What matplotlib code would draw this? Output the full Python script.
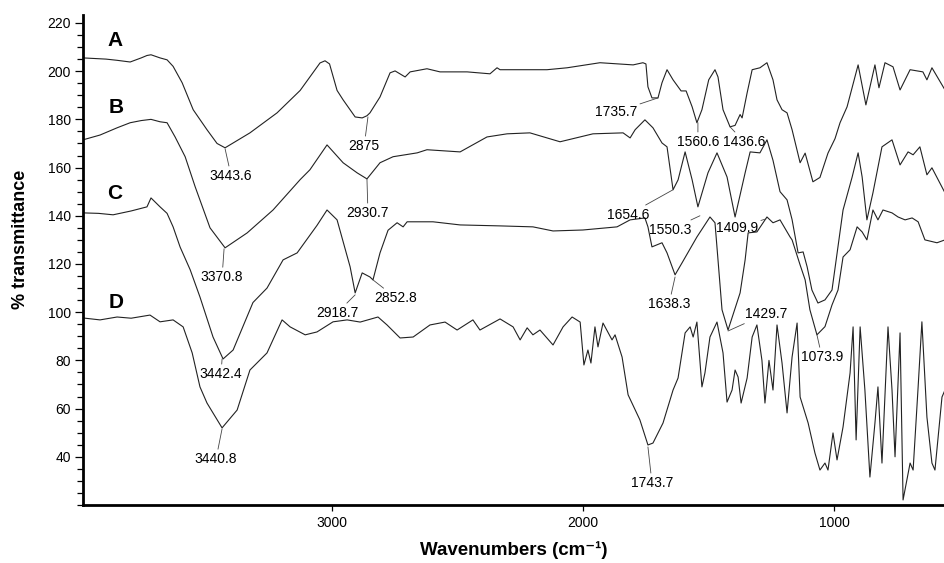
import numpy as np
import matplotlib
matplotlib.use('Agg')
import matplotlib.pyplot as plt
from matplotlib.ticker import MultipleLocator, FixedLocator

plt.rcParams['font.family'] = ['Liberation Sans', 'DejaVu Sans']

# spectrum A (wavenumber, % transmittance, offset as in the figure)
wn_a = [3992, 3900, 3856, 3804, 3760, 3737, 3721, 3685, 3657, 3633, 3597, 3553, 3498, 3458, 3426,
        3327, 3219, 3127, 3048, 3028, 3010, 2980, 2956, 2908, 2880, 2861, 2849, 2809, 2769, 2749,
        2709, 2689, 2622, 2570, 2462, 2371, 2343, 2331, 2144, 2064, 1933, 1801, 1762, 1750, 1742,
        1726, 1702, 1686, 1666, 1642, 1610, 1590, 1566, 1547, 1527, 1500, 1475, 1463, 1443, 1415,
        1395, 1375, 1367, 1347, 1327, 1296, 1268, 1244, 1228, 1208, 1188, 1168, 1136, 1116, 1085,
        1057, 1025, 997, 977, 949, 905, 874, 838, 822, 798, 766, 738, 698, 647, 631, 611, 559]
t_a = [205.5, 205.0, 204.5, 203.8, 205.5, 206.5, 206.8, 205.5, 204.7, 202.0, 195.2, 184.0, 175.7, 170.0, 168.2,
       174.4, 182.7, 192.0, 203.4, 204.3, 203.0, 192.0, 188.1, 181.0, 180.6, 181.5, 182.7, 189.3, 199.3, 200.1,
       197.6, 199.7, 201.0, 199.7, 199.7, 198.9, 201.4, 200.6, 200.6, 201.4, 203.5, 202.6, 203.5, 203.0, 193.5,
       188.9, 188.9, 195.2, 200.6, 196.4, 191.8, 191.8, 185.2, 178.6, 184.0, 196.4, 200.6, 197.6, 184.0, 176.9,
       177.5, 182.0, 180.6, 191.0, 200.6, 201.4, 203.5, 196.4, 188.1, 184.0, 182.7, 175.7, 162.0, 166.0, 154.1,
       155.9, 166.0, 172.0, 178.6, 185.2, 202.6, 186.0, 202.6, 193.1, 203.5, 201.8, 192.2, 200.6, 199.7, 196.4, 201.4, 192.2]

wn_b = [3992, 3924, 3856, 3804, 3760, 3721, 3685, 3657, 3625, 3585, 3545, 3486, 3426, 3338, 3235,
        3127, 3088, 3020, 2956, 2900, 2861, 2809, 2757, 2661, 2622, 2490, 2383, 2303, 2212, 2092,
        1961, 1841, 1813, 1793, 1754, 1722, 1686, 1666, 1642, 1622, 1594, 1566, 1543, 1503, 1467,
        1427, 1395, 1355, 1335, 1296, 1268, 1244, 1216, 1188, 1168, 1144, 1124, 1108, 1089, 1065,
        1037, 1009, 965, 929, 905, 889, 870, 846, 810, 770, 738, 706, 686, 659, 631, 611, 559]
t_b = [171.5, 173.5, 176.5, 178.6, 179.5, 180.0, 179.0, 178.6, 172.7, 164.5, 152.0, 135.0, 126.7, 132.9, 142.4,
       155.0, 159.1, 169.4, 162.0, 157.8, 155.3, 162.0, 164.5, 166.1, 167.4, 166.5, 172.7, 174.0, 174.4, 170.7,
       174.0, 174.4, 172.3, 175.7, 179.8, 176.5, 170.2, 168.6, 150.8, 154.9, 166.5, 154.9, 143.7, 157.8, 166.1,
       156.1, 139.5, 157.8, 166.5, 166.1, 171.5, 163.0, 150.0, 146.6, 138.4, 124.6, 125.0, 118.8, 109.2, 103.8,
       105.1, 109.2, 142.4, 156.0, 166.1, 156.1, 138.3, 149.5, 168.6, 171.5, 161.1, 166.5, 165.3, 168.6, 157.0, 159.9, 149.5]

wn_c = [3992, 3930, 3872, 3800, 3737, 3721, 3685, 3657, 3633, 3605, 3565, 3526, 3474, 3434, 3394,
        3315, 3259, 3195, 3139, 3060, 3020, 2980, 2928, 2908, 2880, 2849, 2837, 2809, 2777, 2741,
        2717, 2701, 2598, 2490, 2331, 2200, 2120, 2001, 1865, 1813, 1754, 1742, 1726, 1686, 1666,
        1634, 1606, 1547, 1495, 1475, 1463, 1447, 1423, 1375, 1355, 1343, 1308, 1268, 1244, 1216,
        1176, 1168, 1136, 1116, 1097, 1069, 1037, 1009, 985, 965, 937, 909, 889, 870, 846,
        826, 806, 770, 746, 718, 690, 666, 639, 591, 559]
t_c = [141.2, 141.0, 140.4, 142.0, 143.7, 147.4, 143.7, 141.0, 135.4, 127.0, 117.6, 106.3, 89.7, 80.6, 84.3,
       104.0, 110.0, 121.7, 124.6, 136.0, 142.4, 138.3, 118.8, 108.0, 116.3, 114.6, 113.4, 124.6, 134.0, 137.1,
       135.4, 137.5, 137.5, 136.2, 135.8, 135.4, 133.7, 134.1, 135.4, 138.3, 139.1, 135.4, 127.1, 128.8, 124.6,
       115.5, 120.5, 131.2, 139.5, 137.1, 121.7, 101.0, 92.6, 108.0, 121.7, 132.9, 133.3, 139.5, 137.1, 138.3,
       131.2, 130.0, 119.6, 113.4, 101.0, 90.6, 94.0, 103.0, 109.2, 122.9, 125.9, 135.4, 133.3, 130.0, 142.4,
       138.3, 142.4, 141.2, 139.5, 138.3, 139.1, 137.5, 130.0, 128.8, 130.0]

wn_d = [3992, 3924, 3856, 3800, 3725, 3685, 3633, 3593, 3557, 3526, 3498, 3438, 3378, 3327, 3259,
        3199, 3167, 3107, 3060, 2996, 2940, 2888, 2817, 2781, 2729, 2677, 2610, 2550, 2502, 2439,
        2411, 2331, 2279, 2251, 2223, 2200, 2172, 2120, 2080, 2044, 2012, 1997, 1981, 1969, 1953,
        1941, 1921, 1885, 1873, 1845, 1821, 1774, 1742, 1722, 1682, 1642, 1622, 1594, 1574, 1562,
        1547, 1527, 1515, 1495, 1467, 1443, 1427, 1407, 1395, 1383, 1371, 1347, 1327, 1308, 1288,
        1276, 1260, 1244, 1228, 1208, 1188, 1168, 1148, 1136, 1104, 1077, 1057, 1037, 1025, 1005,
        989, 965, 937, 925, 913, 897, 878, 858, 838, 826, 810, 786, 770, 758, 738,
        726, 698, 686, 666, 651, 631, 611, 599, 571, 559]
t_d = [97.6, 96.8, 98.0, 97.5, 98.8, 96.0, 96.8, 93.9, 83.1, 69.0, 62.3, 52.0, 59.4, 76.0, 83.1,
       96.8, 93.9, 90.6, 91.8, 96.0, 96.8, 95.9, 98.0, 94.7, 89.3, 89.7, 94.7, 95.9, 92.6, 96.8,
       92.6, 97.2, 93.9, 88.5, 93.5, 90.6, 92.6, 86.4, 93.9, 98.0, 95.9, 78.1, 84.3, 78.9, 93.9,
       85.6, 95.5, 88.5, 90.6, 81.4, 65.7, 55.3, 44.9, 45.7, 54.0, 67.7, 72.7, 91.4, 93.9, 89.7,
       95.9, 69.0, 74.8, 89.7, 95.9, 83.1, 62.7, 67.7, 76.0, 73.1, 62.3, 72.7, 89.7, 94.7, 80.0,
       62.3, 80.0, 67.7, 94.7, 78.9, 58.2, 81.4, 95.5, 64.8, 54.0, 41.6, 34.5, 37.4, 34.5, 49.9,
       38.7, 52.4, 74.8, 93.9, 47.0, 93.9, 67.7, 31.6, 54.0, 69.0, 37.4, 93.9, 67.7, 40.0, 91.4,
       22.1, 37.4, 34.5, 69.0, 96.0, 56.5, 37.4, 34.5, 64.8, 67.7]

# peak labels: text, point on curve, text position
peak_labels = [
    ("3443.6", (3426, 167.8), (3402, 156.6)),
    ("3370.8", (3430, 126.3), (3438, 114.6)),
    ("3442.4", (3438, 80.6), (3442, 74.4)),
    ("3440.8", (3438, 51.6), (3462, 39.1)),
    ("2875", (2857, 181.0), (2872, 169.0)),
    ("2930.7", (2861, 155.3), (2857, 141.2)),
    ("2918.7", (2908, 107.2), (2980, 99.7)),
    ("2852.8", (2837, 113.4), (2745, 105.9)),
    ("1735.7", (1702, 188.9), (1869, 183.1)),
    ("1654.6", (1642, 150.8), (1821, 140.4)),
    ("1560.6", (1543, 178.6), (1543, 170.7)),
    ("1436.6", (1415, 176.9), (1359, 170.7)),
    ("1550.3", (1535, 140.0), (1654, 134.2)),
    ("1409.9", (1272, 138.7), (1387, 135.0)),
    ("1638.3", (1634, 114.6), (1658, 103.4)),
    ("1429.7", (1423, 92.2), (1272, 99.3)),
    ("1073.9", (1069, 90.6), (1049, 81.4)),
    ("1743.7", (1742, 44.1), (1726, 29.2)),
]

curve_names = ['A', 'B', 'C', 'D']
name_pos = [(3864, 212.6), (3860, 184.8), (3864, 149.1), (3860, 103.9)]

fig = plt.figure(figsize=(9.45, 5.63), dpi=100)
ax = fig.add_axes([82.7 / 945, 58 / 563, (945 - 82.7) / 945, 490 / 563])

for wn, t in [(wn_a, t_a), (wn_b, t_b), (wn_c, t_c), (wn_d, t_d)]:
    ax.plot(wn, t, color='#222222', lw=0.8)

for txt, xy, xyt in peak_labels:
    ax.annotate(txt, xy=xy, xytext=xyt, fontsize=10, ha='center', va='center',
                arrowprops=dict(arrowstyle='-', color='#444444', lw=0.6, shrinkA=0, shrinkB=0))

for name, pos in zip(curve_names, name_pos):
    ax.text(pos[0], pos[1], name, fontsize=15, fontweight='bold', ha='center', va='center')

ax.set_xlim(3993, 559)
ax.set_ylim(20, 223.3)
ax.xaxis.set_major_locator(FixedLocator([3000, 2000, 1000]))
ax.yaxis.set_major_locator(MultipleLocator(20))
ax.yaxis.set_minor_locator(MultipleLocator(5))
ax.set_yticks(np.arange(40, 221, 20))

for s in ['top', 'right']:
    ax.spines[s].set_visible(False)
ax.spines['left'].set_linewidth(2)
ax.spines['bottom'].set_linewidth(2)
ax.tick_params(axis='y', which='major', length=5.5, width=0.9, labelsize=10, pad=3)
ax.tick_params(axis='y', which='minor', length=4, width=0.9)
ax.tick_params(axis='x', which='major', length=4, width=0.9, labelsize=10, pad=4)

ax.set_xlabel('Wavenumbers (cm⁻¹)', fontsize=13.5, fontweight='bold', labelpad=8)
ax.set_ylabel('% transmittance', fontsize=13, fontweight='bold')
ax.yaxis.set_label_coords(-0.062, 0.543)

fig.savefig('out.png', dpi=100)
